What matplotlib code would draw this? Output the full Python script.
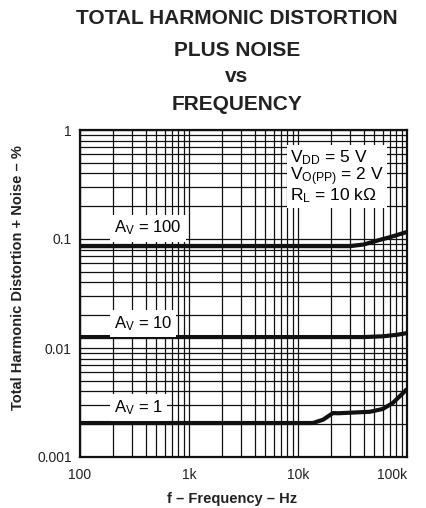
import matplotlib
matplotlib.use("Agg")
import matplotlib.pyplot as plt
from matplotlib.ticker import FixedLocator, LogLocator, NullFormatter

plt.rcParams['font.family'] = ['Liberation Sans', 'DejaVu Sans']
plt.rcParams['mathtext.fontset'] = 'custom'
plt.rcParams['mathtext.rm'] = 'Liberation Sans'
plt.rcParams['mathtext.it'] = 'Liberation Sans:italic'

# Data
freq_av100 = [100, 30000, 40000, 52000, 70000, 100000]
thd_av100 = [0.086, 0.086, 0.089, 0.096, 0.104, 0.116]

freq_av10 = [100, 40000, 60000, 80000, 100000]
thd_av10 = [0.0126, 0.0126, 0.0128, 0.0132, 0.0137]

freq_av1 = [100, 13700, 17000, 20900, 23300, 33000, 45700, 60000, 74000, 92000, 100000]
thd_av1 = [0.00205, 0.00205, 0.0022, 0.00253, 0.00252, 0.00256, 0.0026, 0.00276, 0.00313, 0.00386, 0.0042]

x_ticks = [100, 1000, 10000, 100000]
x_labels = ["100", "1k", "10k", "100k"]
y_ticks = [0.001, 0.01, 0.1, 1]
y_labels = ["0.001", "0.01", "0.1", "1"]

fig = plt.figure(figsize=(4.26, 5.08), dpi=100)
ax = fig.add_axes([80/426, 1-457/508, (407-80)/426, (457-130)/508])
ax.set_xscale('log')
ax.set_yscale('log')
ax.set_xlim(100, 100000)
ax.set_ylim(0.001, 1)

ax.xaxis.set_major_locator(FixedLocator(x_ticks))
ax.set_xticklabels(x_labels)
ax.yaxis.set_major_locator(FixedLocator(y_ticks))
ax.set_yticklabels(y_labels)
ax.xaxis.set_minor_locator(LogLocator(base=10, subs=range(2, 10), numticks=20))
ax.yaxis.set_minor_locator(LogLocator(base=10, subs=range(2, 10), numticks=20))
ax.xaxis.set_minor_formatter(NullFormatter())
ax.yaxis.set_minor_formatter(NullFormatter())
ax.tick_params(which='both', length=0, labelsize=10, colors='#222222')
ax.tick_params(axis='x', pad=8)
ax.tick_params(axis='y', pad=6)
ax.get_xticklabels()[-1].set_horizontalalignment('right')
ax.grid(True, which='both', color='#111111', linewidth=0.9)
ax.set_axisbelow(True)
for s in ax.spines.values():
    s.set_linewidth(1.6)
    s.set_color('#111111')

lw = 3.0
ax.plot(freq_av100, thd_av100, color='#111111', lw=lw, solid_capstyle='butt', zorder=3)
ax.plot(freq_av10, thd_av10, color='#111111', lw=lw, solid_capstyle='butt', zorder=3)
ax.plot(freq_av1, thd_av1, color='#111111', lw=lw, solid_capstyle='butt', zorder=3)

bb = dict(facecolor='white', edgecolor='none', pad=3)
ax.text(205, 0.126, r"A$_\mathrm{V}$ = 100", fontsize=12, va='center', ha='left', bbox=bb, zorder=4)
ax.text(205, 0.0169, r"A$_\mathrm{V}$ = 10", fontsize=12, va='center', ha='left', bbox=bb, zorder=4)
ax.text(205, 0.00282, r"A$_\mathrm{V}$ = 1", fontsize=12, va='center', ha='left', bbox=bb, zorder=4)

ax.text(8450, 0.68,
        "V$_\\mathrm{DD}$ = 5 V\nV$_\\mathrm{O(PP)}$ = 2 V\nR$_\\mathrm{L}$ = 10 k\u03a9",
        fontsize=12.5, va='top', ha='left', linespacing=0.9,
        bbox=dict(facecolor='white', edgecolor='none', pad=2), zorder=4)

ax.set_xlabel("f \u2013 Frequency \u2013 Hz", fontsize=10.5, fontweight='bold', color='#222222')
ax.xaxis.set_label_coords((232-80)/327, -(492-457)/327)
ax.set_ylabel("Total Harmonic Distortion + Noise \u2013 %", fontsize=10.5, fontweight='bold', color='#222222')
ax.yaxis.set_label_coords((25-80)/327, (457-278)/327)

for txt, yy in [("TOTAL HARMONIC DISTORTION", 19), ("PLUS NOISE", 51), ("vs", 77), ("FREQUENCY", 104)]:
    fig.text(237/426, 1-yy/508, txt, ha='center', va='center', fontsize=15, fontweight='bold', color='#222222')

fig.savefig("out.png", dpi=100)
